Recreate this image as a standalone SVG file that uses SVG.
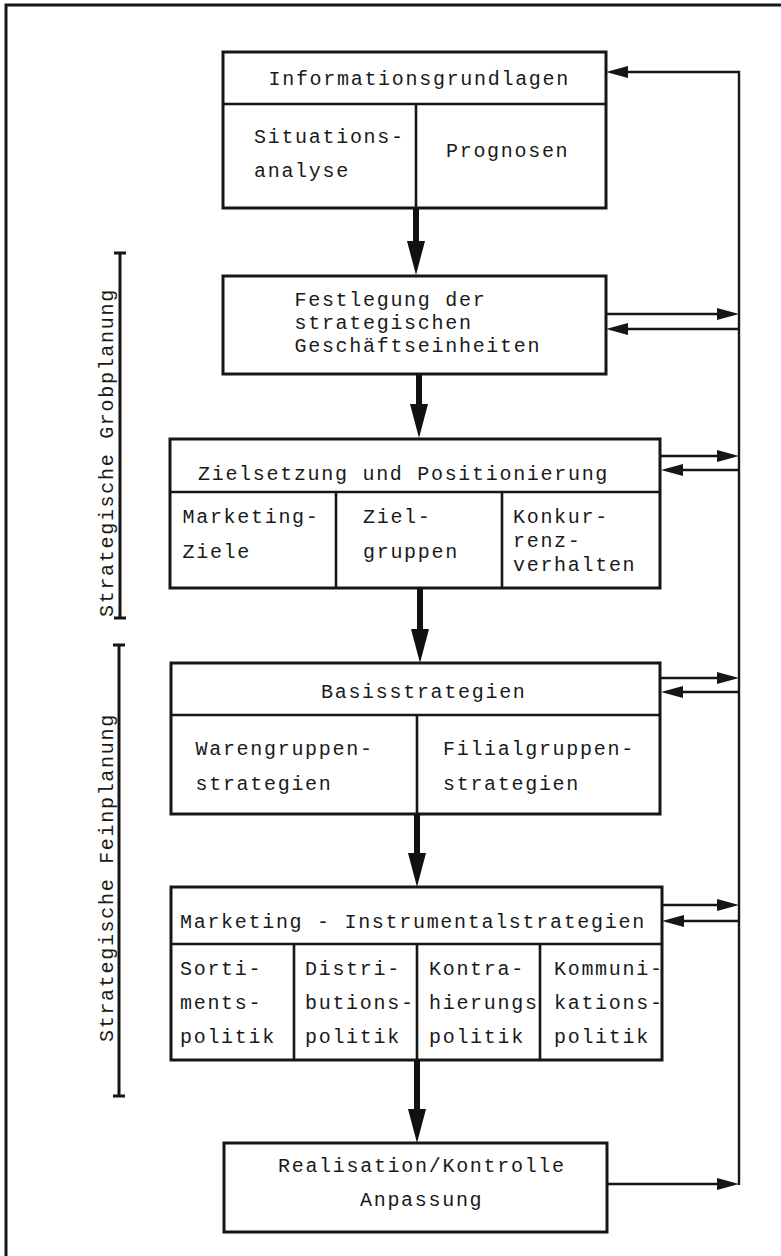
<svg xmlns="http://www.w3.org/2000/svg" width="781" height="1256" viewBox="0 0 781 1256">
<style>
.box{fill:#fff;stroke:#161616;stroke-width:3}
.div{stroke:#161616;stroke-width:2.6;fill:none}
.t{font-family:"Liberation Mono","Courier New",monospace;font-size:20px;letter-spacing:1.7px;fill:#1a1a1a}
.thin{stroke:#161616;stroke-width:2.4;fill:none}
.thick{stroke:#111;stroke-width:6;fill:none}
.frame{stroke:#161616;stroke-width:3;fill:none}
</style>
<defs>
<marker id="ah" markerUnits="userSpaceOnUse" markerWidth="22" markerHeight="12" refX="13" refY="6" orient="auto"><path d="M0,0 L22,6 L0,12 z" fill="#161616"/></marker>
<marker id="ahb" markerUnits="userSpaceOnUse" markerWidth="34" markerHeight="18" refX="22" refY="9" orient="auto"><path d="M0,0 L34,9 L0,18 z" fill="#111"/></marker>
</defs>
<rect width="781" height="1256" fill="#fff"/>
<g id="frame">
<path class="frame" d="M6,1256 L6,5 L781,5"/>
</g>
<g id="brackets">
<path class="frame" d="M120,253 L120,618 M114,253 L126,253 M114,618 L126,618"/>
<path class="frame" d="M119,645 L119,1096 M113,645 L125,645 M113,1096 L125,1096"/>
<text class="t" transform="translate(113,617) rotate(-90)">Strategische Grobplanung</text>
<text class="t" transform="translate(113,1042) rotate(-90)">Strategische Feinplanung</text>
</g>
<g id="n1">
<rect class="box" x="223" y="52" width="383" height="156"/>
<path class="div" d="M223,104 L606,104 M416,104 L416,208"/>
<text class="t" x="268.5" y="85">Informationsgrundlagen</text>
<text class="t" x="254" y="143">Situations-</text>
<text class="t" x="254" y="177">analyse</text>
<text class="t" x="446" y="157">Prognosen</text>
</g>
<g id="n2">
<rect class="box" x="223" y="276" width="383" height="98"/>
<text class="t" x="294.5" y="306">Festlegung der</text>
<text class="t" x="294.5" y="329">strategischen</text>
<text class="t" x="294.5" y="352">Geschäftseinheiten</text>
</g>
<g id="n3">
<rect class="box" x="170" y="439" width="490" height="149"/>
<path class="div" d="M170,492 L660,492 M336,492 L336,588 M502,492 L502,588"/>
<text class="t" x="198" y="480">Zielsetzung und Positionierung</text>
<text class="t" x="182.5" y="523">Marketing-</text>
<text class="t" x="182.5" y="558">Ziele</text>
<text class="t" x="363" y="523">Ziel-</text>
<text class="t" x="363" y="558">gruppen</text>
<text class="t" x="513" y="523">Konkur-</text>
<text class="t" x="513" y="547">renz-</text>
<text class="t" x="513" y="571">verhalten</text>
</g>
<g id="n4">
<rect class="box" x="171" y="663" width="489" height="151"/>
<path class="div" d="M171,715 L660,715 M417,715 L417,814"/>
<text class="t" x="321" y="698">Basisstrategien</text>
<text class="t" x="195.5" y="755">Warengruppen-</text>
<text class="t" x="195.5" y="790">strategien</text>
<text class="t" x="443" y="755">Filialgruppen-</text>
<text class="t" x="443" y="790">strategien</text>
</g>
<g id="n5">
<rect class="box" x="171" y="887" width="491" height="173"/>
<path class="div" d="M171,944 L662,944 M294,944 L294,1060 M417,944 L417,1060 M540,944 L540,1060"/>
<text class="t" x="180" y="928">Marketing - Instrumentalstrategien</text>
<text class="t" x="180" y="975">Sorti-</text>
<text class="t" x="180" y="1009">ments-</text>
<text class="t" x="180" y="1043">politik</text>
<text class="t" x="305" y="975">Distri-</text>
<text class="t" x="305" y="1009">butions-</text>
<text class="t" x="305" y="1043">politik</text>
<text class="t" x="429" y="975">Kontra-</text>
<text class="t" x="429" y="1009">hierungs</text>
<text class="t" x="429" y="1043">politik</text>
<text class="t" x="554" y="975">Kommuni-</text>
<text class="t" x="554" y="1009">kations-</text>
<text class="t" x="554" y="1043">politik</text>
</g>
<g id="n6">
<rect class="box" x="224" y="1143" width="383" height="89"/>
<text class="t" x="278" y="1172">Realisation/Kontrolle</text>
<text class="t" x="360" y="1206">Anpassung</text>
</g>
<g id="connectors">
<line class="thick" x1="416" y1="208" x2="416" y2="263" marker-end="url(#ahb)"/>
<line class="thick" x1="419" y1="374" x2="419" y2="426" marker-end="url(#ahb)"/>
<line class="thick" x1="420" y1="588" x2="420" y2="651" marker-end="url(#ahb)"/>
<line class="thick" x1="417" y1="814" x2="417" y2="875" marker-end="url(#ahb)"/>
<line class="thick" x1="417" y1="1060" x2="417" y2="1131" marker-end="url(#ahb)"/>
<path class="thin" d="M739,1185 L739,72 L615,72" marker-end="url(#ah)"/>
<line class="thin" x1="607" y1="1184" x2="730" y2="1184" marker-end="url(#ah)"/>
<line class="thin" x1="606" y1="314" x2="730" y2="314" marker-end="url(#ah)"/>
<line class="thin" x1="739" y1="329" x2="615" y2="329" marker-end="url(#ah)"/>
<line class="thin" x1="660" y1="456" x2="730" y2="456" marker-end="url(#ah)"/>
<line class="thin" x1="739" y1="470" x2="670" y2="470" marker-end="url(#ah)"/>
<line class="thin" x1="660" y1="678" x2="730" y2="678" marker-end="url(#ah)"/>
<line class="thin" x1="739" y1="692" x2="670" y2="692" marker-end="url(#ah)"/>
<line class="thin" x1="662" y1="905" x2="730" y2="905" marker-end="url(#ah)"/>
<line class="thin" x1="739" y1="921" x2="671" y2="921" marker-end="url(#ah)"/>
</g>
</svg>
